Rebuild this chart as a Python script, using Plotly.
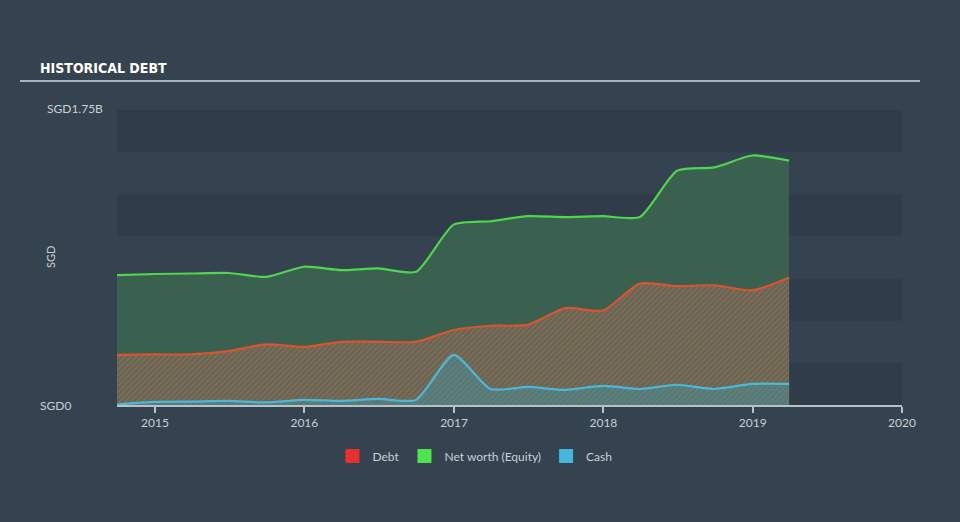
import plotly.graph_objects as go

dates = ["2014-09-30", "2014-12-31", "2015-03-31", "2015-06-30", "2015-09-30",
         "2015-12-31", "2016-03-31", "2016-06-30", "2016-09-30", "2016-12-31",
         "2017-03-31", "2017-06-30", "2017-09-30", "2017-12-31", "2018-03-31",
         "2018-06-30", "2018-09-30", "2018-12-31", "2019-03-31"]
equity = [0.771, 0.777, 0.780, 0.783, 0.760, 0.820, 0.800, 0.810, 0.790, 1.070,
          1.090, 1.120, 1.115, 1.120, 1.115, 1.390, 1.410, 1.480, 1.450]
debt = [0.297, 0.300, 0.300, 0.320, 0.360, 0.345, 0.375, 0.375, 0.375, 0.445,
        0.470, 0.475, 0.575, 0.560, 0.720, 0.705, 0.710, 0.680, 0.755]
cash = [0.003, 0.018, 0.020, 0.024, 0.015, 0.030, 0.024, 0.036, 0.030, 0.297,
        0.095, 0.107, 0.090, 0.113, 0.095, 0.120, 0.095, 0.125, 0.125]
legend_names = ["Debt", "Net worth (Equity)", "Cash"]
legend_colors = ["#e8302e", "#4ee44e", "#45b5dc"]

BG = "#35424f"
DARK = "#303c4a"
TXT = "#c9d0d8"
FONT = "Lato, 'Open Sans', sans-serif"

fig = go.Figure()

fig.add_trace(go.Scatter(
    x=dates, y=equity, mode="lines", line=dict(color="#4fd64c", width=2.2, shape="spline", smoothing=0.6),
    fill="tozeroy", fillcolor="#3a6150", showlegend=False, hoverinfo="skip"))
fig.add_trace(go.Scatter(
    x=dates, y=debt, mode="lines", line=dict(color="#d9542f", width=2.2, shape="spline", smoothing=0.6),
    fill="tozeroy", fillpattern=dict(shape="/", fgcolor="#c4623f", bgcolor="#566a5c", size=4, solidity=0.5),
    showlegend=False, hoverinfo="skip"))
fig.add_trace(go.Scatter(
    x=dates, y=cash, mode="lines", line=dict(color="#4ab8d8", width=2.2, shape="spline", smoothing=0.6),
    fill="tozeroy", fillpattern=dict(shape="/", fgcolor="#4f8f8c", bgcolor="#5e7572", size=4, solidity=0.5),
    showlegend=False, hoverinfo="skip"))

for n, c in zip(legend_names, legend_colors):
    fig.add_trace(go.Scatter(x=[None], y=[None], mode="markers", name=n,
                             marker=dict(symbol="square", size=14, color=c)))

shapes = []
for i in range(7):
    if i % 2 == 0:
        shapes.append(dict(type="rect", xref="paper", yref="y", x0=0, x1=1,
                           y0=i * 0.25, y1=(i + 1) * 0.25, fillcolor=DARK,
                           line=dict(width=0), layer="below"))
shapes.append(dict(type="line", xref="paper", yref="paper", x0=-0.1236, x1=1.0229,
                   y0=1.0983, y1=1.0983, line=dict(color="#aab3bc", width=2)))

annotations = [
    dict(text="<b>HISTORICAL DEBT</b>", xref="paper", yref="paper", x=-0.1006, y=1.142,
         xanchor="left", yanchor="middle", showarrow=False,
         font=dict(family="'DejaVu Sans Condensed', 'Liberation Sans Narrow', sans-serif", size=14, color="#ffffff")),
    dict(text="SGD1.75B", xref="paper", yref="y", x=-0.0917, y=1.75, xanchor="left", yanchor="middle",
         yshift=2, showarrow=False, font=dict(family=FONT, size=12, color=TXT)),
    dict(text="SGD0", xref="paper", yref="y", x=-0.1006, y=0, xanchor="left", yanchor="middle",
         showarrow=False, font=dict(family=FONT, size=12, color=TXT)),
    dict(text="SGD", xref="paper", yref="y", x=-0.085, y=0.88, xanchor="center", yanchor="middle",
         textangle=-90, showarrow=False, font=dict(family=FONT, size=11, color=TXT)),
]

fig.update_layout(
    width=960, height=522,
    margin=dict(l=117, r=58, t=110, b=117),
    paper_bgcolor=BG, plot_bgcolor=BG,
    font=dict(family=FONT, color=TXT, size=12),
    shapes=shapes, annotations=annotations,
    legend=dict(orientation="h", x=0.456, xanchor="center", y=-0.173, yanchor="middle",
                font=dict(family=FONT, size=12, color=TXT), itemwidth=30,
                bgcolor="rgba(0,0,0,0)"),
    xaxis=dict(type="date", range=["2014-09-30", "2020-01-01"],
               tickvals=["2015-01-01", "2016-01-01", "2017-01-01", "2018-01-01", "2019-01-01", "2020-01-01"],
               ticktext=["2015", "2016", "2017", "2018", "2019", "2020"],
               showgrid=False, zeroline=False, showline=True, linecolor="#b8c0c8", linewidth=1.5,
               ticks="outside", ticklen=6, tickcolor="#b8c0c8", tickwidth=1.5,
               tickfont=dict(family=FONT, size=12, color=TXT)),
    yaxis=dict(range=[0, 1.75], showgrid=False, zeroline=False, showticklabels=False, fixedrange=True),
    hovermode=False,
)

fig.write_html("out.html")
